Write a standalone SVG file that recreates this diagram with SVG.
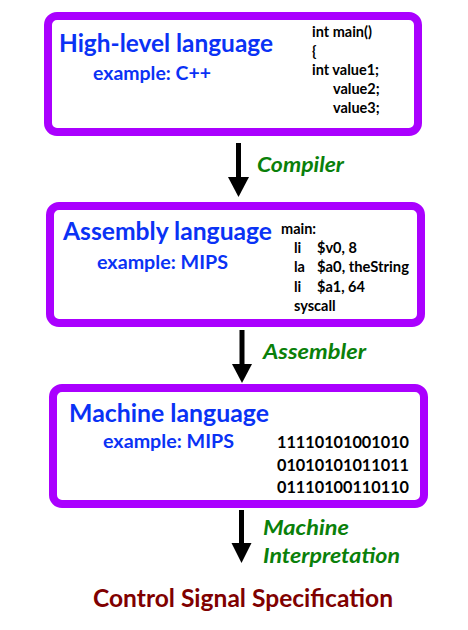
<svg xmlns="http://www.w3.org/2000/svg" width="468" height="630" viewBox="0 0 468 630">
<defs>
<style>
.box{fill:#fff;stroke:#aa00ff;stroke-width:8}
text{font-family:Lato,"Open Sans","Liberation Sans",sans-serif;font-weight:bold}
.title{fill:#0a32f5;font-size:25px}
.ex{fill:#0a32f5;font-size:19px}
.code{fill:#000;font-size:14.5px}
.bin{fill:#000;font-size:17.5px}
.lbl{fill:#0a800a;font-size:21px;font-style:italic}
.out{fill:#800000;font-size:25px}
.shaft{stroke:#000;stroke-width:5}
</style>
</defs>
<rect width="468" height="630" fill="#fff"/>
<g id="high-level">
<rect class="box" x="48" y="16" width="370" height="116" rx="9"/>
<text class="title" x="59" y="52" textLength="214" lengthAdjust="spacingAndGlyphs">High-level language</text>
<text class="ex" x="93" y="80" textLength="118" lengthAdjust="spacingAndGlyphs">example: C++</text>
<text class="code" x="312" y="37">int main()</text>
<text class="code" x="312" y="56">{</text>
<text class="code" x="312" y="75">int value1;</text>
<text class="code" x="333" y="94">value2;</text>
<text class="code" x="333" y="113">value3;</text>
</g>
<g id="assembly">
<rect class="box" x="50" y="206" width="371" height="117" rx="9"/>
<text class="title" x="63" y="240" textLength="209" lengthAdjust="spacingAndGlyphs">Assembly language</text>
<text class="ex" x="97" y="269" textLength="131" lengthAdjust="spacingAndGlyphs">example: MIPS</text>
<text class="code" x="281" y="234">main:</text>
<text class="code" x="294" y="253">li</text><text class="code" x="317" y="253">$v0, 8</text>
<text class="code" x="294" y="272">la</text><text class="code" x="317" y="272" textLength="92" lengthAdjust="spacingAndGlyphs">$a0, theString</text>
<text class="code" x="294" y="292">li</text><text class="code" x="317" y="292">$a1, 64</text>
<text class="code" x="294" y="311">syscall</text>
</g>
<g id="machine">
<rect class="box" x="53" y="388" width="371" height="116" rx="9"/>
<text class="title" x="69" y="422" textLength="200" lengthAdjust="spacingAndGlyphs">Machine language</text>
<text class="ex" x="103" y="448" textLength="131" lengthAdjust="spacingAndGlyphs">example: MIPS</text>
<text class="bin" x="277" y="448" textLength="132" lengthAdjust="spacingAndGlyphs">11110101001010</text>
<text class="bin" x="277" y="471" textLength="132" lengthAdjust="spacingAndGlyphs">01010101011011</text>
<text class="bin" x="277" y="493" textLength="132" lengthAdjust="spacingAndGlyphs">01110100110110</text>
</g>
<g id="connectors">
<line class="shaft" x1="238.5" y1="143" x2="238.5" y2="180"/>
<polygon points="228,177 249,177 238.5,197"/>
<text class="lbl" x="257" y="172" textLength="87" lengthAdjust="spacingAndGlyphs">Compiler</text>
<line class="shaft" x1="242" y1="330" x2="242" y2="367"/>
<polygon points="232,364 252,364 242,383"/>
<text class="lbl" x="263" y="359" textLength="103" lengthAdjust="spacingAndGlyphs">Assembler</text>
<line class="shaft" x1="241.5" y1="510" x2="241.5" y2="546"/>
<polygon points="231.5,543 251.5,543 241.5,563"/>
<text class="lbl" x="263" y="535" textLength="86" lengthAdjust="spacingAndGlyphs">Machine</text>
<text class="lbl" x="263" y="563" textLength="137" lengthAdjust="spacingAndGlyphs">Interpretation</text>
</g>
<g id="control-signal">
<text class="out" x="93" y="607" textLength="300" lengthAdjust="spacingAndGlyphs">Control Signal Specification</text>
</g>
</svg>
